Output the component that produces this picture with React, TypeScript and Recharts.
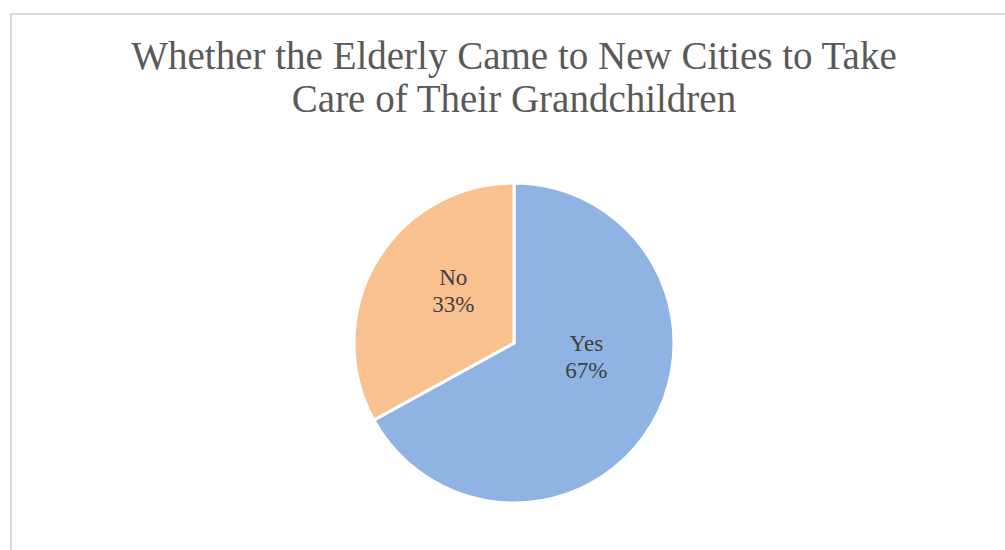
import { PieChart, Pie, Cell } from "recharts";

const TITLE_LINES = ["Whether the Elderly Came to New Cities to Take", "Care of Their Grandchildren"];
const CATEGORIES = ["Yes", "No"];
const PERCENTS = [67, 33];
const COLORS = ["#8fb3e2", "#f9c18f"];

const FONT = "'Liberation Serif', serif";

const data = CATEGORIES.map((name, i) => ({ name, value: PERCENTS[i] }));

const RADIAN = Math.PI / 180;

function renderLabel(props: any) {
  const { cx, cy, midAngle, outerRadius, index } = props;
  // Excel "best fit" puts labels roughly halfway out
  const r = outerRadius * (index === 0 ? 0.46 : 0.5);
  const ang = index === 0 ? midAngle + 20 : midAngle - 10;
  const x = cx + r * Math.cos(-ang * RADIAN);
  const y = cy + r * Math.sin(-ang * RADIAN);
  return (
    <text x={x} y={y} textAnchor="middle" fill="#404040" fontFamily={FONT} fontSize={23}>
      <tspan x={x} dy={-6}>{data[index].name}</tspan>
      <tspan x={x} dy={27}>{`${data[index].value}%`}</tspan>
    </text>
  );
}

export default function App() {
  return (
    <div style={{ position: "absolute", left: 0, top: 0, width: 1005, height: 550, background: "#fff", overflow: "hidden" }}>
      {/* chart frame, runs off the right and bottom */}
      <div
        style={{
          position: "absolute",
          left: 10,
          top: 13,
          width: 1100,
          height: 700,
          borderLeft: "2px solid #d9d9d9",
          borderTop: "2px solid #d9d9d9",
        }}
      />
      <div
        style={{
          position: "absolute",
          left: 0,
          top: 34,
          width: 1028,
          textAlign: "center",
          fontFamily: FONT,
          fontSize: 39,
          lineHeight: "43px",
          color: "#595959",
        }}
      >
        {TITLE_LINES.map((t) => (
          <div key={t}>{t}</div>
        ))}
      </div>
      <div style={{ position: "absolute", left: 0, top: 0 }}>
        <PieChart width={1005} height={550} margin={{ top: 0, right: 0, bottom: 0, left: 0 }}>
          <Pie
            data={data}
            dataKey="value"
            nameKey="name"
            cx={514}
            cy={343}
            outerRadius={160}
            startAngle={90}
            endAngle={-270}
            stroke="#fff"
            strokeWidth={3}
            label={renderLabel}
            labelLine={false}
            isAnimationActive={false}
          >
            {data.map((_, i) => (
              <Cell key={i} fill={COLORS[i]} />
            ))}
          </Pie>
        </PieChart>
      </div>
    </div>
  );
}
